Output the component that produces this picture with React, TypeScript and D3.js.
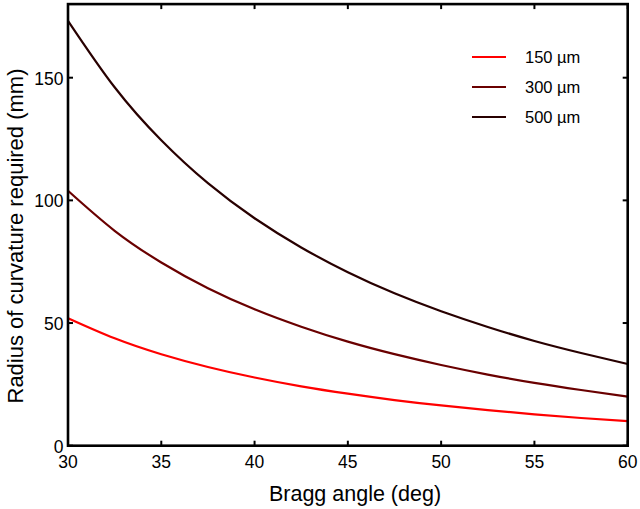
import React from "react";
import * as d3 from "d3";

const angles = [30, 32.5, 35, 37.5, 40, 42.5, 45, 47.5, 50, 52.5, 55, 57.5, 60];
const r150 = [52.0, 43.8, 37.3, 32.1, 27.8, 24.2, 21.2, 18.6, 16.4, 14.5, 12.8, 11.3, 10.0];
const r300 = [103.9, 87.6, 74.7, 64.2, 55.6, 48.5, 42.4, 37.3, 32.9, 29.0, 25.6, 22.7, 20.0];
const r500 = [173.2, 146.1, 124.5, 107.0, 92.7, 80.8, 70.7, 62.1, 54.8, 48.4, 42.7, 37.8, 33.3];
const seriesNames = ["150 µm", "300 µm", "500 µm"];
const seriesColors = ["#ff0000", "#6a0000", "#280000"];
const xTicks = [30, 35, 40, 45, 50, 55, 60];
const yTicks = [0, 50, 100, 150];

const W = 640;
const H = 509;
const L = 68;
const R = 627.7;
const T = 4.1;
const B = 445.7;
const FONT = "Arial, 'Liberation Sans', Helvetica, sans-serif";

export default function App() {
  const x = d3.scaleLinear().domain([30, 60]).range([L, R]);
  const y = d3.scaleLinear().domain([0, 180]).range([B, T]);
  const series = [r150, r300, r500];
  const line = d3
    .line<[number, number]>()
    .x((d) => x(d[0]))
    .y((d) => y(d[1]))
    .curve(d3.curveNatural);
  const tl = 5;
  return (
    <svg
      width={W}
      height={H}
      style={{ position: "absolute", left: 0, top: 0, background: "#fff" }}
      fontFamily={FONT}
    >
      <rect x={0} y={0} width={W} height={H} fill="#fff" />
      {series.map((vals, i) => (
        <path
          key={i}
          d={line(angles.map((a, j) => [a, vals[j]] as [number, number])) || ""}
          fill="none"
          stroke={seriesColors[i]}
          strokeWidth={2.2}
        />
      ))}
      <rect x={L} y={T} width={R - L} height={B - T} fill="none" stroke="#000" strokeWidth={2.6} />
      {xTicks.map((t) => (
        <g key={"x" + t}>
          <line x1={x(t)} x2={x(t)} y1={B} y2={B - tl} stroke="#000" strokeWidth={2} />
          <line x1={x(t)} x2={x(t)} y1={T} y2={T + tl} stroke="#000" strokeWidth={2} />
          <text x={x(t)} y={B + 22} textAnchor="middle" fontSize={17.5} fill="#000">
            {t}
          </text>
        </g>
      ))}
      {yTicks.map((t) => (
        <g key={"y" + t}>
          <line x1={L} x2={L + tl} y1={y(t)} y2={y(t)} stroke="#000" strokeWidth={2} />
          <line x1={R} x2={R - tl} y1={y(t)} y2={y(t)} stroke="#000" strokeWidth={2} />
          <text x={L - 4.5} y={y(t) + 7} textAnchor="end" fontSize={17.5} fill="#000">
            {t}
          </text>
        </g>
      ))}
      <text x={355} y={501} textAnchor="middle" fontSize={21.5} fill="#000">
        Bragg angle (deg)
      </text>
      <text
        transform={`translate(22.5, 236) rotate(-90)`}
        textAnchor="middle"
        fontSize={22}
        fill="#000"
      >
        Radius of curvature required (mm)
      </text>
      {seriesNames.map((n, i) => (
        <g key={n}>
          <line
            x1={472}
            x2={506}
            y1={57 + i * 30}
            y2={57 + i * 30}
            stroke={seriesColors[i]}
            strokeWidth={2.2}
          />
          <text x={525} y={57 + i * 30 + 6} fontSize={16.5} fill="#000">
            {n}
          </text>
        </g>
      ))}
    </svg>
  );
}
